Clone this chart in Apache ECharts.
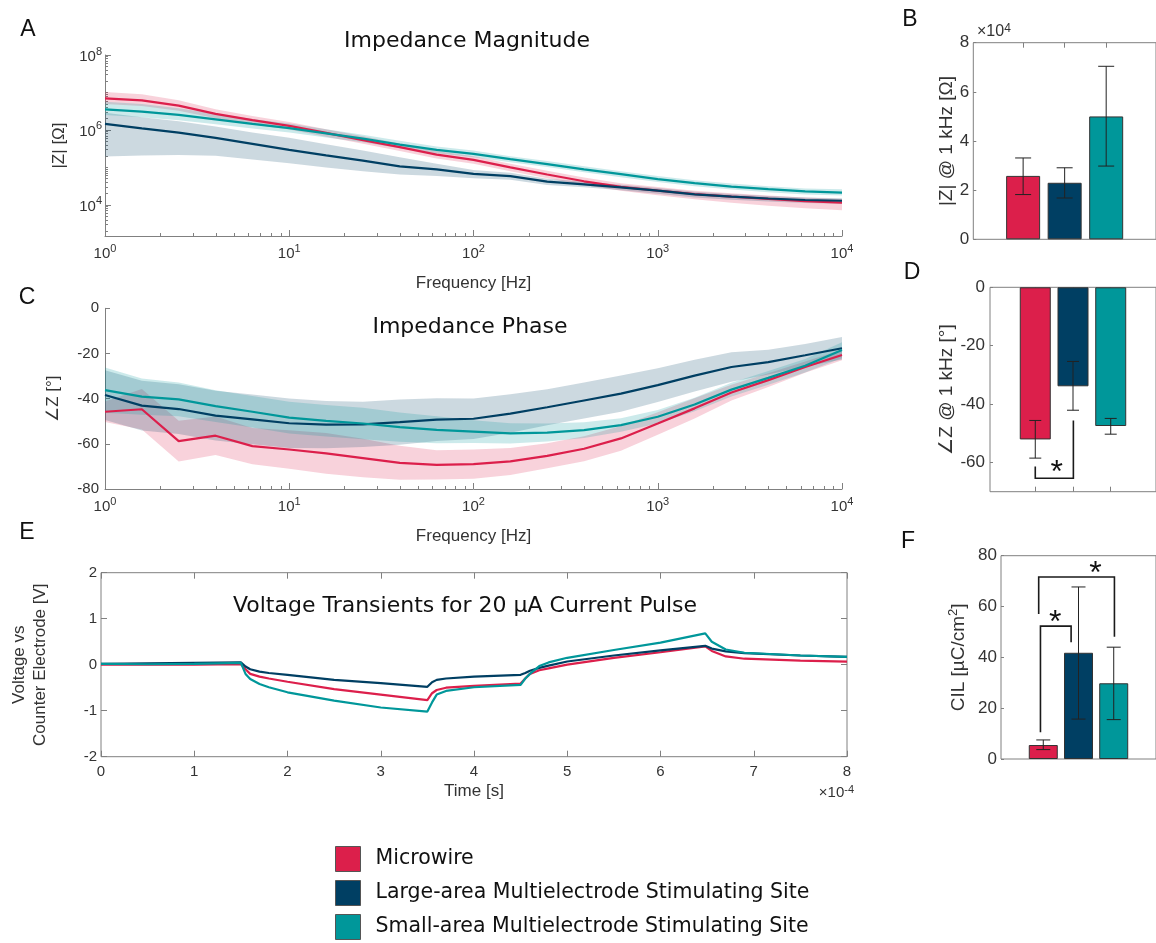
<!DOCTYPE html>
<html><head><meta charset="utf-8">
<script src="https://cdn.jsdelivr.net/npm/echarts@6/dist/echarts.min.js"></script>
<style>html,body{margin:0;padding:0;background:#fff}#c{width:1156px;height:943px}</style>
</head><body><div id="c"></div>
<script>
// ---------------- DATA ----------------
const groupNames = ['Microwire', 'Large-area Multielectrode Stimulating Site', 'Small-area Multielectrode Stimulating Site'];

// Frequencies of the impedance sweep [Hz]
const freqHz = [1, 1.585, 2.512, 3.981, 6.31, 10, 15.85, 25.12, 39.81, 63.1, 100, 158.5, 251.2, 398.1, 631, 1000, 1585, 2512, 3981, 6310, 10000];
const freqTickExps = [0, 1, 2, 3, 4];
const magTickExps = [4, 6, 8];

// |Z| as log10(Ohm): mean, upper and lower edge of shaded band
const magMicro   = [6.845, 6.79, 6.65, 6.43, 6.26, 6.11, 5.92, 5.73, 5.54, 5.34, 5.20, 5.00, 4.81, 4.63, 4.48, 4.38, 4.29, 4.22, 4.16, 4.10, 4.06];
const magMicroHi = [7.015, 6.95, 6.79, 6.55, 6.37, 6.21, 6.02, 5.83, 5.64, 5.44, 5.30, 5.10, 4.91, 4.73, 4.58, 4.48, 4.38, 4.31, 4.25, 4.20, 4.16];
const magMicroLo = [6.695, 6.64, 6.51, 6.31, 6.15, 6.01, 5.82, 5.63, 5.44, 5.24, 5.10, 4.90, 4.71, 4.53, 4.38, 4.26, 4.15, 4.06, 3.98, 3.91, 3.86];
const magLarge   = [6.16, 6.04, 5.93, 5.79, 5.63, 5.47, 5.32, 5.18, 5.03, 4.95, 4.83, 4.77, 4.62, 4.55, 4.47, 4.38, 4.28, 4.22, 4.17, 4.13, 4.11];
const magLargeHi = [6.46, 6.34, 6.23, 6.09, 5.93, 5.79, 5.62, 5.45, 5.27, 5.10, 4.93, 4.86, 4.70, 4.62, 4.54, 4.45, 4.35, 4.29, 4.24, 4.20, 4.18];
const magLargeLo = [5.29, 5.32, 5.33, 5.31, 5.21, 5.11, 5.00, 4.90, 4.81, 4.77, 4.71, 4.67, 4.53, 4.47, 4.39, 4.30, 4.20, 4.14, 4.09, 4.05, 4.03];
const magSmall   = [6.55, 6.49, 6.40, 6.28, 6.16, 6.05, 5.91, 5.77, 5.61, 5.47, 5.36, 5.22, 5.09, 4.95, 4.82, 4.69, 4.58, 4.49, 4.42, 4.36, 4.33];
const magSmallHi = [6.75, 6.69, 6.58, 6.43, 6.29, 6.17, 6.02, 5.87, 5.71, 5.56, 5.45, 5.30, 5.17, 5.03, 4.90, 4.77, 4.66, 4.57, 4.50, 4.44, 4.42];
const magSmallLo = [6.40, 6.34, 6.26, 6.15, 6.04, 5.93, 5.80, 5.67, 5.51, 5.38, 5.27, 5.14, 5.01, 4.87, 4.74, 4.61, 4.50, 4.41, 4.34, 4.28, 4.25];

// Phase [deg]
const phMicro   = [-45.8, -44.7, -58.8, -56.4, -61.0, -62.5, -64.2, -66.3, -68.4, -69.3, -69.0, -67.8, -65.3, -62.2, -57.6, -51.0, -44.3, -37.3, -31.8, -26.0, -20.7];
const phMicroHi = [-41.3, -35.7, -49.8, -47.9, -53.0, -54.0, -55.2, -57.8, -60.9, -62.8, -62.5, -61.8, -59.8, -56.7, -52.1, -46.0, -39.8, -33.8, -28.8, -23.5, -18.4];
const phMicroLo = [-50.3, -53.7, -67.8, -64.9, -69.0, -71.0, -73.2, -74.8, -75.9, -75.8, -75.5, -73.8, -70.8, -67.7, -63.1, -56.0, -48.8, -40.8, -34.8, -28.5, -23.0];
const phLarge   = [-38.4, -43.1, -44.6, -47.5, -49.2, -50.9, -51.5, -51.4, -50.4, -49.3, -48.9, -46.6, -43.8, -40.8, -37.8, -34.0, -29.8, -26.0, -23.8, -20.8, -17.7];
const phLargeHi = [-27.4, -32.1, -33.6, -36.5, -38.2, -39.9, -41.0, -41.4, -40.4, -39.8, -39.9, -38.1, -35.8, -32.8, -29.8, -26.5, -22.8, -19.5, -18.3, -15.8, -12.7];
const phLargeLo = [-49.4, -54.1, -55.6, -58.5, -60.2, -61.9, -62.0, -61.4, -60.4, -58.8, -57.9, -55.1, -51.8, -48.8, -45.8, -41.5, -36.8, -32.5, -29.3, -25.8, -22.7];
const phSmall   = [-36.2, -39.1, -40.3, -43.3, -45.8, -48.4, -49.8, -51.0, -52.6, -53.8, -54.6, -55.4, -55.0, -53.9, -51.7, -48.0, -42.6, -36.0, -30.8, -25.4, -18.5];
const phSmallHi = [-26.2, -31.1, -32.8, -36.3, -38.8, -41.4, -42.8, -44.0, -46.1, -47.8, -49.6, -50.9, -51.0, -50.4, -48.7, -45.0, -39.6, -33.0, -27.8, -22.4, -15.0];
const phSmallLo = [-46.2, -47.1, -47.8, -50.3, -52.8, -55.4, -56.8, -58.0, -59.1, -59.8, -59.6, -59.9, -59.0, -57.4, -54.7, -51.0, -45.6, -39.0, -33.8, -28.4, -22.0];

// Voltage transients: time in units of 1e-4 s, voltage [V]
const timeE = [0, 0.5, 1.0, 1.5, 1.55, 1.6, 1.7, 1.8, 2.0, 2.5, 3.0, 3.5, 3.55, 3.6, 3.7, 4.0, 4.5, 4.55, 4.6, 4.7, 4.8, 5.0, 5.5, 6.0, 6.48, 6.55, 6.7, 6.9, 7.5, 8.0];
const vMicro = [0.0, 0.0, 0.0, 0.01, -0.1, -0.2, -0.26, -0.3, -0.37, -0.53, -0.65, -0.77, -0.62, -0.55, -0.5, -0.46, -0.41, -0.3, -0.2, -0.12, -0.08, 0.0, 0.15, 0.27, 0.4, 0.3, 0.18, 0.13, 0.09, 0.065];
const vLarge = [0.02, 0.03, 0.04, 0.05, -0.04, -0.1, -0.15, -0.18, -0.22, -0.33, -0.4, -0.48, -0.38, -0.33, -0.3, -0.26, -0.22, -0.18, -0.13, -0.07, -0.02, 0.07, 0.2, 0.31, 0.41, 0.35, 0.29, 0.25, 0.2, 0.17];
const vSmall = [0.02, 0.01, 0.02, 0.04, -0.2, -0.31, -0.42, -0.49, -0.6, -0.78, -0.93, -1.02, -0.82, -0.65, -0.57, -0.49, -0.44, -0.3, -0.2, -0.03, 0.05, 0.15, 0.32, 0.48, 0.68, 0.5, 0.33, 0.26, 0.2, 0.17];

// Bar panels (bars at x = 1, 2, 3)
const barX = [1, 2, 3];
const zAt1k   = [25800, 23000, 50000];
const zAt1kLo = [18200, 16800, 29800];
const zAt1kHi = [33100, 29100, 70400];
const phAt1k   = [-52.1, -33.9, -47.5];
const phAt1kLo = [-58.5, -42.1, -50.3];
const phAt1kHi = [-45.6, -25.4, -44.9];
const cil   = [5.5, 41.8, 29.8];
const cilLo = [3.7, 15.7, 15.5];
const cilHi = [7.5, 67.7, 44.0];
// significance brackets: [x1, y1, x2, y2, yBar, xStar]
const sigD = [[1.0, -61.4, 2.01, -45.6, -65.4, 1.57]];
const sigF = [[0.92, 10.5, 1.79, 45.9, 52.3, 1.34], [0.87, 57.1, 3.02, 48.1, 71.6, 2.48]];

// ---------------- STYLE ----------------
const colors = ['#DC1F4B', '#003F63', '#00979A'];
const bandColors = ['rgba(220,31,75,0.2)', 'rgba(0,63,99,0.2)', 'rgba(0,151,154,0.2)'];
const F = 'Liberation Sans, Arial, sans-serif';
const FT = 'DejaVu Sans, Verdana, sans-serif';
const axisColor = '#808080';
const labelColor = '#333';

const logF = freqHz.map(f => Math.log10(f));
const minorX = [];
for (let n = 0; n < 4; n++) for (let k = 2; k <= 9; k++) minorX.push(Math.log10(k * Math.pow(10, n)));
const minorY = [];
for (let n = 3; n < 8; n++) for (let k = 1; k <= 9; k++) { const v = Math.log10(k * Math.pow(10, n)); if (v >= 3.17) minorY.push(v); }

const supRich = fs => ({
  b: { fontSize: fs, fontFamily: F, color: labelColor, lineHeight: fs + 3, verticalAlign: 'bottom' },
  s: { fontSize: Math.round(fs * 0.72), fontFamily: F, color: labelColor, lineHeight: Math.round(fs * 0.72), verticalAlign: 'top' }
});
const powLabel = v => '{b|10}{s|' + Math.round(v) + '}';
const nameStyle = fs => ({ fontFamily: F, fontSize: fs, color: labelColor });
const lblStyle = (fs, m) => ({ fontFamily: F, fontSize: fs, color: labelColor, margin: m });
const line = { lineStyle: { color: axisColor, width: 1 } };
const noSplit = { show: false };
const offZero = { onZero: false };

// ---------------- AXES ----------------
const grids = [
  { left: 105, top: 55, width: 737, height: 181 },                 // 0 A
  { left: 105, top: 308.3, width: 737, height: 180.7 },            // 1 C
  { left: 101, top: 572.7, width: 746, height: 184, show: true, borderColor: axisColor, borderWidth: 1 }, // 2 E
  { left: 973.3, top: 42.7, width: 189.2, height: 196.6, show: true, borderColor: axisColor, borderWidth: 1 }, // 3 B
  { left: 990, top: 287.3, width: 171.6, height: 204.4, show: true, borderColor: axisColor, borderWidth: 1 },  // 4 D
  { left: 1001, top: 555.7, width: 160.2, height: 203.3, show: true, borderColor: axisColor, borderWidth: 1 } // 5 F
];

function freqAxisMain(g) {
  return { type: 'value', gridIndex: g, min: 0, max: 4, interval: 1, position: 'bottom',
    axisLine: { show: true, ...offZero, ...line }, splitLine: noSplit,
    axisTick: { show: true, inside: true, length: 3, customValues: minorX, ...line },
    axisLabel: { customValues: freqTickExps, formatter: powLabel, rich: supRich(15), margin: 7 },
    name: 'Frequency [Hz]', nameLocation: 'middle', nameGap: 39, nameTextStyle: nameStyle(17) };
}
function freqAxisMajor(g) {
  return { type: 'value', gridIndex: g, min: 0, max: 4, interval: 1, position: 'bottom',
    axisLine: { show: false, ...offZero }, splitLine: noSplit, axisLabel: { show: false },
    axisTick: { show: true, inside: true, length: 6, ...line } };
}

const xAxes = [
  freqAxisMain(0),   // 0
  freqAxisMajor(0),  // 1
  freqAxisMain(1),   // 2
  freqAxisMajor(1),  // 3
  { type: 'value', gridIndex: 2, min: 0, max: 8, interval: 1, position: 'bottom', // 4 E bottom
    axisLine: { show: false, ...offZero }, splitLine: noSplit,
    axisTick: { inside: true, length: 6, ...line }, axisLabel: lblStyle(15, 8),
    name: 'Time [s]', nameLocation: 'middle', nameGap: 26, nameTextStyle: nameStyle(17) },
  { type: 'value', gridIndex: 2, min: 0, max: 8, interval: 1, position: 'top', // 5 E top
    axisLine: { show: false, ...offZero }, splitLine: noSplit, axisLabel: { show: false },
    axisTick: { inside: true, length: 6, ...line } },
  { type: 'value', gridIndex: 3, min: -0.2, max: 4.2, position: 'top', // 6 B
    axisLine: { show: false, ...offZero }, splitLine: noSplit, axisLabel: { show: false },
    axisTick: { inside: true, length: 5, customValues: barX, ...line } },
  { type: 'value', gridIndex: 4, min: -0.2, max: 4.2, position: 'top', // 7 D top
    axisLine: { show: false, ...offZero }, splitLine: noSplit, axisLabel: { show: false },
    axisTick: { inside: true, length: 5, customValues: barX, ...line } },
  { type: 'value', gridIndex: 4, min: -0.2, max: 4.2, position: 'bottom', // 8 D bottom
    axisLine: { show: false, ...offZero }, splitLine: noSplit, axisLabel: { show: false },
    axisTick: { inside: true, length: 5, customValues: barX, ...line } },
  { type: 'value', gridIndex: 5, min: -0.2, max: 4.2, position: 'bottom', show: false, axisLine: offZero } // 9 F
];

const yAxes = [
  { type: 'value', gridIndex: 0, min: 3.17, max: 8, position: 'left', // 0 A
    axisLine: { show: true, ...offZero, ...line }, splitLine: noSplit,
    axisTick: { inside: true, length: 6, customValues: magTickExps, ...line },
    axisLabel: { customValues: magTickExps, formatter: powLabel, rich: supRich(15), margin: 3 },
    name: '|Z| [Ω]', nameLocation: 'middle', nameGap: 36, nameTextStyle: nameStyle(17) },
  { type: 'value', gridIndex: 0, min: 3.17, max: 8, position: 'left', // 1 A minor
    axisLine: { show: false, ...offZero }, splitLine: noSplit, axisLabel: { show: false },
    axisTick: { inside: true, length: 3, customValues: minorY, ...line } },
  { type: 'value', gridIndex: 1, min: -80, max: 0, interval: 20, position: 'left', // 2 C
    axisLine: { show: true, ...offZero, ...line }, splitLine: noSplit,
    axisTick: { inside: true, length: 5, ...line }, axisLabel: lblStyle(15, 6),
    name: '∠Z [°]', nameLocation: 'middle', nameGap: 43, nameTextStyle: nameStyle(17) },
  { type: 'value', gridIndex: 2, min: -2, max: 2, interval: 1, position: 'left', // 3 E
    axisLine: { show: false, ...offZero }, splitLine: noSplit,
    axisTick: { inside: true, length: 6, ...line }, axisLabel: lblStyle(15, 4),
    name: 'Voltage vs\nCounter Electrode [V]', nameLocation: 'middle', nameGap: 50,
    nameTextStyle: { ...nameStyle(17), lineHeight: 21 } },
  { type: 'value', gridIndex: 2, min: -2, max: 2, interval: 1, position: 'right', // 4 E right
    axisLine: { show: false, ...offZero }, splitLine: noSplit, axisLabel: { show: false },
    axisTick: { inside: true, length: 6, ...line } },
  { type: 'value', gridIndex: 3, min: 0, max: 80000, interval: 20000, position: 'left', // 5 B
    axisLine: { show: false, ...offZero }, splitLine: noSplit,
    axisTick: { inside: true, length: 3, ...line },
    axisLabel: { ...lblStyle(17, 4), formatter: v => String(Math.round(v / 10000)) },
    name: '|Z| @ 1 kHz [Ω]', nameLocation: 'middle', nameGap: 17, nameTextStyle: nameStyle(19) },
  { type: 'value', gridIndex: 4, min: -70, max: 0, position: 'left', // 6 D
    axisLine: { show: false, ...offZero }, splitLine: noSplit,
    axisTick: { inside: true, length: 3, customValues: [-60, -40, -20, 0], ...line },
    axisLabel: { ...lblStyle(17, 5), customValues: [-60, -40, -20, 0] },
    name: '∠Z @ 1 kHz [°]', nameLocation: 'middle', nameGap: 33, nameTextStyle: nameStyle(19) },
  { type: 'value', gridIndex: 5, min: 0, max: 80, interval: 20, position: 'left', // 7 F
    axisLine: { show: false, ...offZero }, splitLine: noSplit,
    axisTick: { inside: true, length: 3, ...line }, axisLabel: lblStyle(17, 4),
    name: 'CIL [µC/cm{s|2}]', nameLocation: 'middle', nameGap: 30,
    nameTextStyle: { ...nameStyle(19), lineHeight: 24,
      rich: { s: { fontFamily: F, fontSize: 13, color: labelColor, lineHeight: 13, verticalAlign: 'top' } } } }
];

// ---------------- SERIES ----------------
const series = [];
function bars(values, xi, yi, w) {
  values.forEach((v, i) => series.push({
    type: 'bar', name: groupNames[i], xAxisIndex: xi, yAxisIndex: yi, barWidth: w, barGap: '-100%',
    data: [[barX[i], v]], z: 2, silent: true,
    itemStyle: { color: colors[i], borderColor: '#333', borderWidth: 1 }
  }));
}
bars(zAt1k, 6, 5, 34);
bars(phAt1k, 7, 6, 31);
bars(cil, 9, 7, 29);

function errBars(lo, hi, xi, yi, cap) {
  series.push({
    type: 'custom', xAxisIndex: xi, yAxisIndex: yi, z: 6, silent: true,
    data: lo.map((l, i) => [barX[i], l, hi[i]]), encode: { x: 0, y: [1, 2] },
    renderItem: (p, api) => {
      const x = api.value(0);
      const a = api.coord([x, api.value(1)]), b = api.coord([x, api.value(2)]);
      const st = { stroke: '#222', lineWidth: 1 };
      return { type: 'group', children: [
        { type: 'line', shape: { x1: a[0], y1: a[1], x2: b[0], y2: b[1] }, style: st },
        { type: 'line', shape: { x1: a[0] - cap, y1: a[1], x2: a[0] + cap, y2: a[1] }, style: st },
        { type: 'line', shape: { x1: b[0] - cap, y1: b[1], x2: b[0] + cap, y2: b[1] }, style: st }
      ] };
    }
  });
}
errBars(zAt1kLo, zAt1kHi, 6, 5, 8);
errBars(phAt1kLo, phAt1kHi, 7, 6, 6);
errBars(cilLo, cilHi, 9, 7, 7);

function brackets(sig, xi, yi, starLift) {
  series.push({
    type: 'custom', xAxisIndex: xi, yAxisIndex: yi, z: 7, silent: true,
    data: sig, encode: { x: [0, 2, 5], y: [1, 3, 4] },
    renderItem: (p, api) => {
      const x1 = api.value(0), y1 = api.value(1), x2 = api.value(2), y2 = api.value(3), yb = api.value(4), xs = api.value(5);
      const pts = [api.coord([x1, y1]), api.coord([x1, yb]), api.coord([x2, yb]), api.coord([x2, y2])];
      const s = api.coord([xs, yb]);
      return { type: 'group', children: [
        { type: 'polyline', shape: { points: pts }, style: { stroke: '#1a1a1a', lineWidth: 1.6, fill: null } },
        { type: 'text', x: s[0], y: s[1] - starLift, style: { text: '*', font: '32px ' + F, fill: '#111',
          align: 'center', verticalAlign: 'middle', textAlign: 'center', textVerticalAlign: 'middle' } }
      ] };
    }
  });
}
brackets(sigD, 7, 6, 5);
brackets(sigF, 9, 7, 3);

function band(xs, lo, hi, color, xi, yi) {
  series.push({
    type: 'custom', xAxisIndex: xi, yAxisIndex: yi, z: 1, silent: true, clip: true,
    data: [[xs[0], lo[0]]],
    renderItem: (p, api) => {
      const pts = [];
      for (let i = 0; i < xs.length; i++) pts.push(api.coord([xs[i], hi[i]]));
      for (let i = xs.length - 1; i >= 0; i--) pts.push(api.coord([xs[i], lo[i]]));
      return { type: 'polygon', shape: { points: pts }, style: { fill: color } };
    }
  });
}
function curve(name, xs, ys, color, xi, yi, w) {
  series.push({
    type: 'line', name, xAxisIndex: xi, yAxisIndex: yi, z: 3, silent: true,
    data: xs.map((x, i) => [x, ys[i]]), showSymbol: false, symbol: 'none',
    lineStyle: { color, width: w }, itemStyle: { color }
  });
}
const magSets = [[magMicro, magMicroLo, magMicroHi], [magLarge, magLargeLo, magLargeHi], [magSmall, magSmallLo, magSmallHi]];
const phSets = [[phMicro, phMicroLo, phMicroHi], [phLarge, phLargeLo, phLargeHi], [phSmall, phSmallLo, phSmallHi]];
magSets.forEach((s, i) => band(logF, s[1], s[2], bandColors[i], 0, 0));
magSets.forEach((s, i) => curve(groupNames[i], logF, s[0], colors[i], 0, 0, 2.2));
phSets.forEach((s, i) => band(logF, s[1], s[2], bandColors[i], 2, 2));
phSets.forEach((s, i) => curve(groupNames[i], logF, s[0], colors[i], 2, 2, 2.2));
[vMicro, vLarge, vSmall].forEach((v, i) => curve(groupNames[i], timeE, v, colors[i], 4, 3, 2.2));

// ---------------- TEXT ----------------
const txt = (text, x, y, font, align, extra) => ({ type: 'text', x, y, silent: true,
  style: Object.assign({ text, font, fill: '#111', align: align || 'center', verticalAlign: 'middle',
    textAlign: align || 'center', textVerticalAlign: 'middle' }, extra || {}) });
const graphic = [
  txt('Impedance Magnitude', 467, 41, '22px ' + FT),
  txt('Impedance Phase', 470, 327, '22px ' + FT),
  txt('Voltage Transients for 20 µA Current Pulse', 465, 606, '22px ' + FT),
  txt('A', 28, 30, '23px ' + F),
  txt('B', 910, 20, '23px ' + F),
  txt('C', 27, 298, '23px ' + F),
  txt('D', 912, 273, '23px ' + F),
  txt('E', 27, 533, '23px ' + F),
  txt('F', 908, 542, '23px ' + F),
  txt('×10{s|4}', 977, 32, '16px ' + F, 'left', { fill: labelColor,
    rich: { s: { fontSize: 12, fontFamily: F, fill: labelColor, lineHeight: 12, verticalAlign: 'top' } }, lineHeight: 19 }),
  txt('×10{s|-4}', 854, 793, '15px ' + F, 'right', { fill: labelColor,
    rich: { s: { fontSize: 11, fontFamily: F, fill: labelColor, lineHeight: 11, verticalAlign: 'top' } }, lineHeight: 18 })
];

const chart = echarts.init(document.getElementById('c'), null, { renderer: 'canvas' });
chart.setOption({
  animation: false,
  backgroundColor: '#fff',
  grid: grids,
  xAxis: xAxes,
  yAxis: yAxes,
  series,
  graphic,
  legend: {
    data: groupNames.map(n => ({ name: n, icon: 'rect' })),
    orient: 'vertical', left: 335, top: 846, height: 100, padding: 0,
    itemWidth: 25, itemHeight: 25, itemGap: 8,
    selectedMode: false,
    itemStyle: { borderColor: '#555', borderWidth: 1 },
    textStyle: { fontFamily: FT, fontSize: 20.5, color: '#111', padding: [0, 0, 0, 10] }
  }
});
</script></body></html>
